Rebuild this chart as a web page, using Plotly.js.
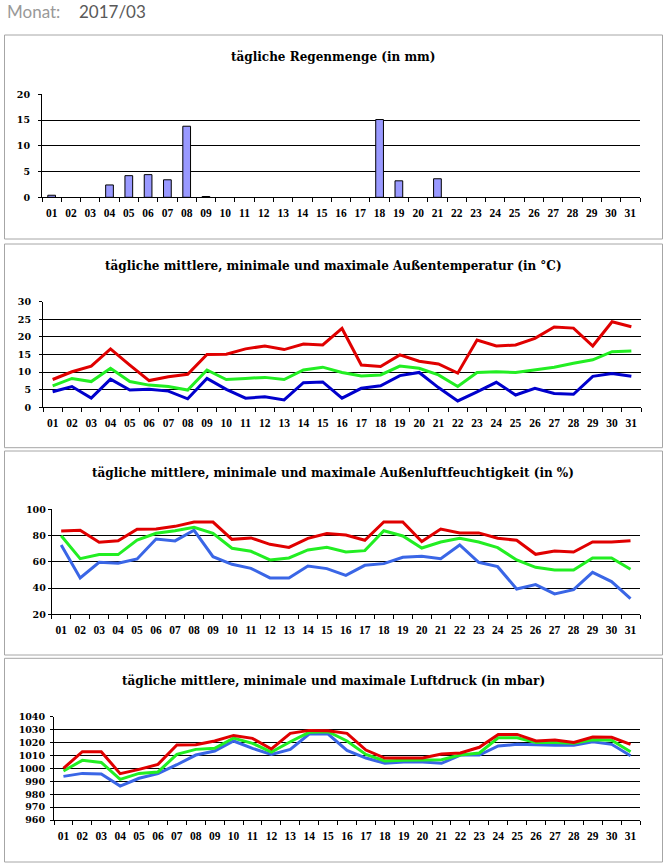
<!DOCTYPE html>
<html>
<head>
<meta charset="utf-8">
<script src="https://cdn.plot.ly/plotly-3.0.1.min.js"></script>
<style>
  html, body { margin: 0; padding: 0; background: #fff; }
  #chart { width: 667px; height: 864px; }
</style>
</head>
<body>
<div id="chart"></div>
<script>
// ---------- data ----------
const days = ['01','02','03','04','05','06','07','08','09','10','11','12','13','14','15','16',
              '17','18','19','20','21','22','23','24','25','26','27','28','29','30','31'];

const rain = [0.4,0,0,2.4,4.2,4.4,3.4,13.8,0.15,0,0,0,0,0,0,0,0,15.1,3.2,0,3.6,0,0,0,0,0,0,0,0,0,0];

const tempMax  = [7.9,10.1,11.7,16.6,12.0,7.6,8.7,9.4,15.0,15.1,16.6,17.4,16.4,18.0,17.7,22.4,12.0,11.6,14.9,13.1,12.3,9.7,19.1,17.4,17.7,19.6,22.8,22.5,17.4,24.3,22.9];
const tempMean = [6.1,8.2,7.3,11.1,7.3,6.3,5.9,4.9,10.6,7.9,8.2,8.5,7.9,10.6,11.4,9.9,8.9,9.2,11.7,11.1,9.2,5.9,9.9,10.1,9.9,10.7,11.4,12.5,13.5,15.8,16.0];
const tempMin  = [4.4,5.9,2.6,8.0,4.9,5.1,4.6,2.4,8.2,5.1,2.6,3.0,2.1,7.0,7.2,2.6,5.4,6.1,9.0,9.9,5.6,1.8,4.4,7.1,3.5,5.4,3.9,3.7,8.8,9.6,8.8];

const humMax  = [83.5,84,74.9,76.1,84.8,85,87,90.3,90.3,77.1,78.2,73.3,71,77.9,81.5,80.4,76.4,90.3,90.3,75.4,85,82,82,77.9,76.4,65.7,68.3,67.5,75.1,75.1,76.1];
const humMean = [79.9,62.4,65.5,65.5,76.6,81.7,83.7,86.3,81.7,70.3,68,61.4,62.9,69,71,67.5,68.5,83.7,79.7,70.5,75.1,77.9,75.1,70.8,61.4,55.8,53.8,53.8,62.9,62.9,54.3];
const humMin  = [72.8,47.7,59.6,58.9,62.2,77.4,75.9,84,63.9,58.1,55,47.7,47.7,56.8,54.8,49.7,57.3,58.6,63.4,64.2,62.4,72.8,59.6,56.3,39.3,42.6,35.5,38.8,52,44.9,31.9];

const presMax  = [1000,1012.9,1012.9,995.9,999.2,1003.1,1018.1,1018.3,1021.2,1025.5,1023.2,1015,1027.1,1029.4,1029.2,1027.1,1014.2,1008,1008,1008,1011.1,1011.9,1016.3,1026.3,1026.3,1021.2,1021.9,1020.1,1024.3,1024,1018.6];
const presMean = [997.9,1006.2,1004.6,991.5,996.1,997.2,1010.8,1014.7,1015.5,1023.5,1019.4,1012.6,1020.6,1027.9,1028.4,1021.2,1010.8,1005.7,1006.2,1006.2,1006.7,1010.3,1011.9,1023.7,1023.7,1020.1,1020.1,1019.4,1022.2,1021.7,1012.9];
const presMin  = [993.8,996.1,995.6,986.3,992.3,995.9,1002.8,1010.3,1013.4,1021.2,1015.5,1010.8,1014.7,1026.6,1026.6,1013.9,1008,1003.9,1004.9,1004.9,1003.9,1010.3,1010.3,1017.3,1018.6,1018.1,1017.8,1017.8,1020.6,1018.6,1009.8];

const titles = [
  'tägliche Regenmenge (in mm)',
  'tägliche mittlere, minimale und maximale Außentemperatur (in °C)',
  'tägliche mittlere, minimale und maximale Außenluftfeuchtigkeit (in %)',
  'tägliche mittlere, minimale und maximale Luftdruck (in mbar)'
];

// ---------- layout helpers ----------
const W = 667, H = 864;
const px = v => v / W;
const py = v => 1 - v / H;

const RED = '#E00000', GREEN = '#22EE22', DBLUE = '#0000CC', LBLUE = '#3A66E6';
const tickFont = {family: 'Liberation Serif', size: 11.5, color: '#000', weight: 'bold'};
const yTickFont = {family: 'DejaVu Serif', size: 9.5, color: '#000', weight: 'bold'};
const titleFont = {family: 'DejaVu Serif', size: 12, color: '#000', weight: 'bold'};

function xAxis(x0, x1, yname) {
  return {
    domain: [px(x0), px(x1)], anchor: yname, type: 'category',
    categoryorder: 'array', categoryarray: days,
    range: [-0.5, 30.5], tickson: 'boundaries', ticks: 'outside', ticklen: 4,
    tickcolor: '#000', tickwidth: 1, showline: true, linecolor: '#000', linewidth: 1,
    showgrid: false, zeroline: false, tickfont: tickFont, ticklabelstandoff: 5,
    tickangle: 0, fixedrange: true
  };
}
function yAxis(ytop, ybot, xname, range, dtick, standoff) {
  return {
    domain: [py(ybot), py(ytop)], anchor: xname, range: range, dtick: dtick, tick0: range[0],
    showgrid: true, gridcolor: '#000', gridwidth: 1, showline: true, linecolor: '#000', linewidth: 1,
    ticks: 'outside', ticklen: 3, tickcolor: '#000', zeroline: false,
    tickfont: yTickFont, ticklabelstandoff: standoff, fixedrange: true
  };
}

const traces = [];
traces.push({type: 'bar', x: days, y: rain.map(v => (v === 0 ? null : v)), xaxis: 'x', yaxis: 'y', width: 0.4,
  marker: {color: '#9999FF', line: {color: '#000', width: 1}}, hoverinfo: 'skip'});

function lines(xa, ya, mn, mean, mx, minColor) {
  [[mn, minColor], [mean, GREEN], [mx, RED]].forEach(([vals, col]) => {
    traces.push({type: 'scatter', mode: 'lines', x: days, y: vals, xaxis: xa, yaxis: ya,
      line: {color: col, width: 3}, hoverinfo: 'skip'});
  });
}
lines('x2', 'y2', tempMin, tempMean, tempMax, DBLUE);
lines('x3', 'y3', humMin, humMean, humMax, LBLUE);
lines('x4', 'y4', presMin, presMean, presMax, LBLUE);

const panels = [[35, 239], [244, 447.7], [451, 655], [658.3, 862]];
const shapes = panels.map(([t, b]) => ({
  type: 'rect', xref: 'paper', yref: 'paper', x0: px(4.5), x1: px(662.5), y0: py(b), y1: py(t),
  line: {color: '#A6A6A6', width: 1}, fillcolor: 'rgba(0,0,0,0)', layer: 'below'
}));

const titleY = [57, 265.7, 473, 681];
const annotations = titles.map((t, i) => ({
  text: t, xref: 'paper', yref: 'paper', x: px(333), y: py(titleY[i]),
  xanchor: 'center', yanchor: 'middle', showarrow: false, font: titleFont
}));
annotations.push({text: 'Monat:', xref: 'paper', yref: 'paper', x: px(5), y: py(12),
  xanchor: 'left', yanchor: 'middle', showarrow: false,
  font: {family: 'Lato', size: 17, color: '#999999'}});
annotations.push({text: '2017/03', xref: 'paper', yref: 'paper', x: px(77), y: py(12),
  xanchor: 'left', yanchor: 'middle', showarrow: false,
  font: {family: 'Lato', size: 17, color: '#595959'}});

const layout = {
  width: W, height: H, margin: {l: 0, r: 0, t: 0, b: 0},
  paper_bgcolor: '#fff', plot_bgcolor: 'rgba(0,0,0,0)', showlegend: false,
  bargap: 0.5,
  xaxis: xAxis(42, 640, 'y'),   yaxis: yAxis(94.3, 197.3, 'x', [0, 20], 5, 6),
  xaxis2: xAxis(43, 641, 'y2'), yaxis2: yAxis(301.7, 407.3, 'x2', [0, 30], 5, 6),
  xaxis3: xAxis(51.7, 640, 'y3'), yaxis3: yAxis(509.3, 614.3, 'x3', [20, 100], 20, 0),
  xaxis4: xAxis(54, 640, 'y4'), yaxis4: yAxis(716.7, 820, 'x4', [960, 1040], 10, 3),
  shapes: shapes, annotations: annotations
};

Plotly.newPlot('chart', traces, layout, {displayModeBar: false, staticPlot: true});
</script>
</body>
</html>
